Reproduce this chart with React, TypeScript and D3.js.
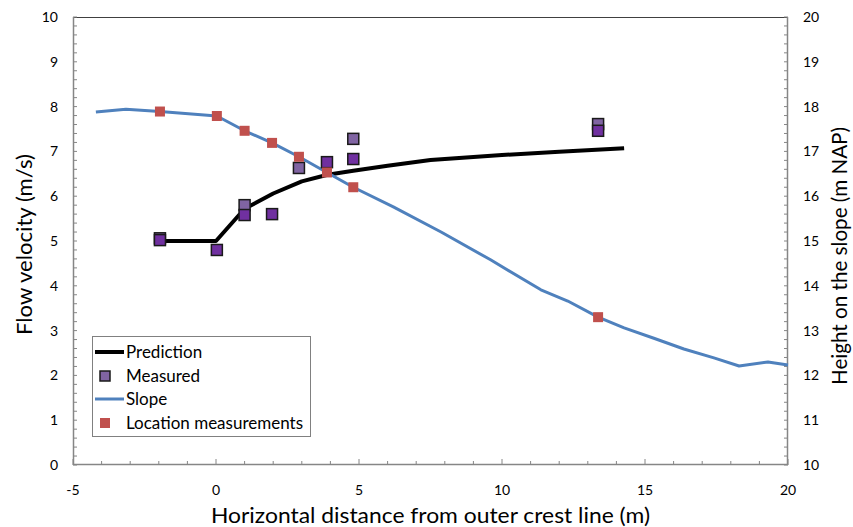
import React from "react";
import * as d3 from "d3";

const predX = [-1.96, 0, 1, 2, 3, 3.9, 4.8, 6, 7.5, 10, 12, 14.27];
const predY = [5.0, 5.0, 5.72, 6.06, 6.33, 6.48, 6.57, 6.68, 6.81, 6.92, 6.99, 7.07];

const measLightX = [-1.96, 1, 2.9, 4.8, 13.36];
const measLightY = [5.06, 5.8, 6.63, 7.28, 7.61];

const measDarkX = [-1.96, 0.03, 1, 1.96, 3.88, 4.8, 13.36];
const measDarkY = [5.02, 4.8, 5.58, 5.6, 6.76, 6.83, 7.46];

const slopeX = [-4.2, -3.15, -1.96, 0.03, 1.0, 1.96, 2.9, 3.88, 4.8, 6.2, 7.87, 9.6, 11.36, 12.3, 13.36, 14.27, 15.31, 16.36, 17.41, 18.29, 19.3, 20.0];
const slopeY = [17.88, 17.94, 17.89, 17.79, 17.46, 17.19, 16.88, 16.53, 16.2, 15.76, 15.2, 14.58, 13.91, 13.66, 13.3, 13.06, 12.83, 12.59, 12.39, 12.21, 12.3, 12.23];

const locX = [-1.96, 0.03, 1.0, 1.96, 2.9, 3.88, 4.8, 13.36];
const locY = [17.89, 17.79, 17.46, 17.19, 16.88, 16.53, 16.2, 13.3];

const xTicks = [-5, 0, 5, 10, 15, 20];
const yLeftTicks = [0, 1, 2, 3, 4, 5, 6, 7, 8, 9, 10];
const yRightTicks = [10, 11, 12, 13, 14, 15, 16, 17, 18, 19, 20];

const legendLabels = ["Prediction", "Measured", "Slope", "Location measurements"];

const W = 853;
const H = 527;
const L = 73;
const R = 788;
const T = 17;
const B = 465;

export default function App() {
  const x = d3.scaleLinear().domain([-5, 20]).range([L, R]);
  const yL = d3.scaleLinear().domain([0, 10]).range([B, T]);
  const yR = d3.scaleLinear().domain([10, 20]).range([B, T]);

  const predLine = d3
    .line<number>()
    .x((_, i) => x(predX[i]))
    .y((d) => yL(d));
  const slopeLine = d3
    .line<number>()
    .x((_, i) => x(slopeX[i]))
    .y((d) => yR(d));

  const font = "Lato, 'Liberation Sans', sans-serif";
  const axisColor = "#868686";

  const minorY = d3.range(0, 10.001, 0.2);
  const minorX = d3.range(-5, 20.001, 1);

  const sq = 11;
  const red = "#C0504D";
  const light = "#8064A2";
  const dark = "#7030A0";

  const legX = 92;
  const legY = 336;
  const legRows = [352, 376, 399, 423];

  return (
    <svg width={W} height={H} style={{ position: "absolute", left: 0, top: 0 }}>
      <rect x={0} y={0} width={W} height={H} fill="#fff" />
      {/* frame */}
      <line x1={L} x2={R} y1={T + 0.5} y2={T + 0.5} stroke="#404040" strokeWidth={1} />
      <line x1={L + 0.5} x2={L + 0.5} y1={T} y2={B} stroke={axisColor} strokeWidth={1.5} />
      <line x1={R - 0.5} x2={R - 0.5} y1={T} y2={B} stroke={axisColor} strokeWidth={1.5} />
      <line x1={L} x2={R} y1={B - 0.5} y2={B - 0.5} stroke={axisColor} strokeWidth={1.5} />
      {/* ticks */}
      {minorY.map((v, i) => (
        <line key={"ly" + i} x1={L} x2={L + 4} y1={yL(v)} y2={yL(v)} stroke={axisColor} strokeWidth={1} />
      ))}
      {minorY.map((v, i) => (
        <line key={"ry" + i} x1={R - 4} x2={R} y1={yL(v)} y2={yL(v)} stroke={axisColor} strokeWidth={1} />
      ))}
      {minorX.map((v, i) => (
        <line
          key={"bx" + i}
          x1={x(v)}
          x2={x(v)}
          y1={B}
          y2={B - (v % 5 === 0 ? 6 : 4)}
          stroke={axisColor}
          strokeWidth={1}
        />
      ))}
      {/* tick labels */}
      {yLeftTicks.map((v) => (
        <text key={"tl" + v} x={58} y={yL(v)} dy="0.35em" textAnchor="end" fontFamily={font} fontSize={14} fill="#000">
          {v}
        </text>
      ))}
      {yRightTicks.map((v) => (
        <text key={"tr" + v} x={803} y={yR(v)} dy="0.35em" textAnchor="start" fontFamily={font} fontSize={14} fill="#000">
          {v}
        </text>
      ))}
      {xTicks.map((v) => (
        <text key={"tx" + v} x={x(v)} y={490} dy="0.35em" textAnchor="middle" fontFamily={font} fontSize={14} fill="#000">
          {v}
        </text>
      ))}
      {/* axis titles */}
      <text
        x={430.5}
        y={516}
        dy="0.35em"
        textAnchor="middle"
        fontFamily={font}
        fontSize={21}
        textLength={439}
        lengthAdjust="spacingAndGlyphs"
        fill="#000"
      >
        Horizontal distance from outer crest line (m)
      </text>
      <text
        transform={`translate(25,${(154 + 335) / 2}) rotate(-90)`}
        dy="0.35em"
        textAnchor="middle"
        fontFamily={font}
        fontSize={21}
        textLength={181}
        lengthAdjust="spacingAndGlyphs"
        fill="#000"
      >
        Flow velocity (m/s)
      </text>
      <text
        transform={`translate(840,${(127 + 385) / 2}) rotate(-90)`}
        dy="0.35em"
        textAnchor="middle"
        fontFamily={font}
        fontSize={21}
        textLength={258}
        lengthAdjust="spacingAndGlyphs"
        fill="#000"
      >
        Height on the slope (m NAP)
      </text>
      {/* series */}
      <path d={predLine(predY) || ""} fill="none" stroke="#000" strokeWidth={4} strokeLinejoin="round" />
      <path d={slopeLine(slopeY) || ""} fill="none" stroke="#4F81BD" strokeWidth={3} strokeLinejoin="round" />
      {measLightY.map((v, i) => (
        <rect
          key={"ml" + i}
          x={x(measLightX[i]) - sq / 2}
          y={yL(v) - sq / 2}
          width={sq}
          height={sq}
          fill={light}
          stroke="#1a1a1a"
          strokeWidth={1.5}
        />
      ))}
      {measDarkY.map((v, i) => (
        <rect
          key={"md" + i}
          x={x(measDarkX[i]) - sq / 2}
          y={yL(v) - sq / 2}
          width={sq}
          height={sq}
          fill={dark}
          stroke="#1a1a1a"
          strokeWidth={1.5}
        />
      ))}
      {locY.map((v, i) => (
        <rect
          key={"lc" + i}
          x={x(locX[i]) - 5}
          y={yR(v) - 5}
          width={10}
          height={10}
          fill={red}
        />
      ))}
      {/* legend */}
      <rect x={legX + 0.5} y={legY + 0.5} width={218} height={100} fill="#fff" stroke="#808080" strokeWidth={1} />
      <line x1={95} x2={124} y1={legRows[0]} y2={legRows[0]} stroke="#000" strokeWidth={4} />
      <rect x={100} y={legRows[1] - 5} width={10} height={10} fill={light} stroke="#1a1a1a" strokeWidth={1.5} />
      <line x1={95} x2={124} y1={legRows[2]} y2={legRows[2]} stroke="#4F81BD" strokeWidth={3} />
      <rect x={100} y={legRows[3] - 5} width={10} height={10} fill={red} />
      {legendLabels.map((t, i) => (
        <text key={t} x={126} y={legRows[i]} dy="0.35em" fontFamily={font} fontSize={17} fill="#000">
          {t}
        </text>
      ))}
    </svg>
  );
}
